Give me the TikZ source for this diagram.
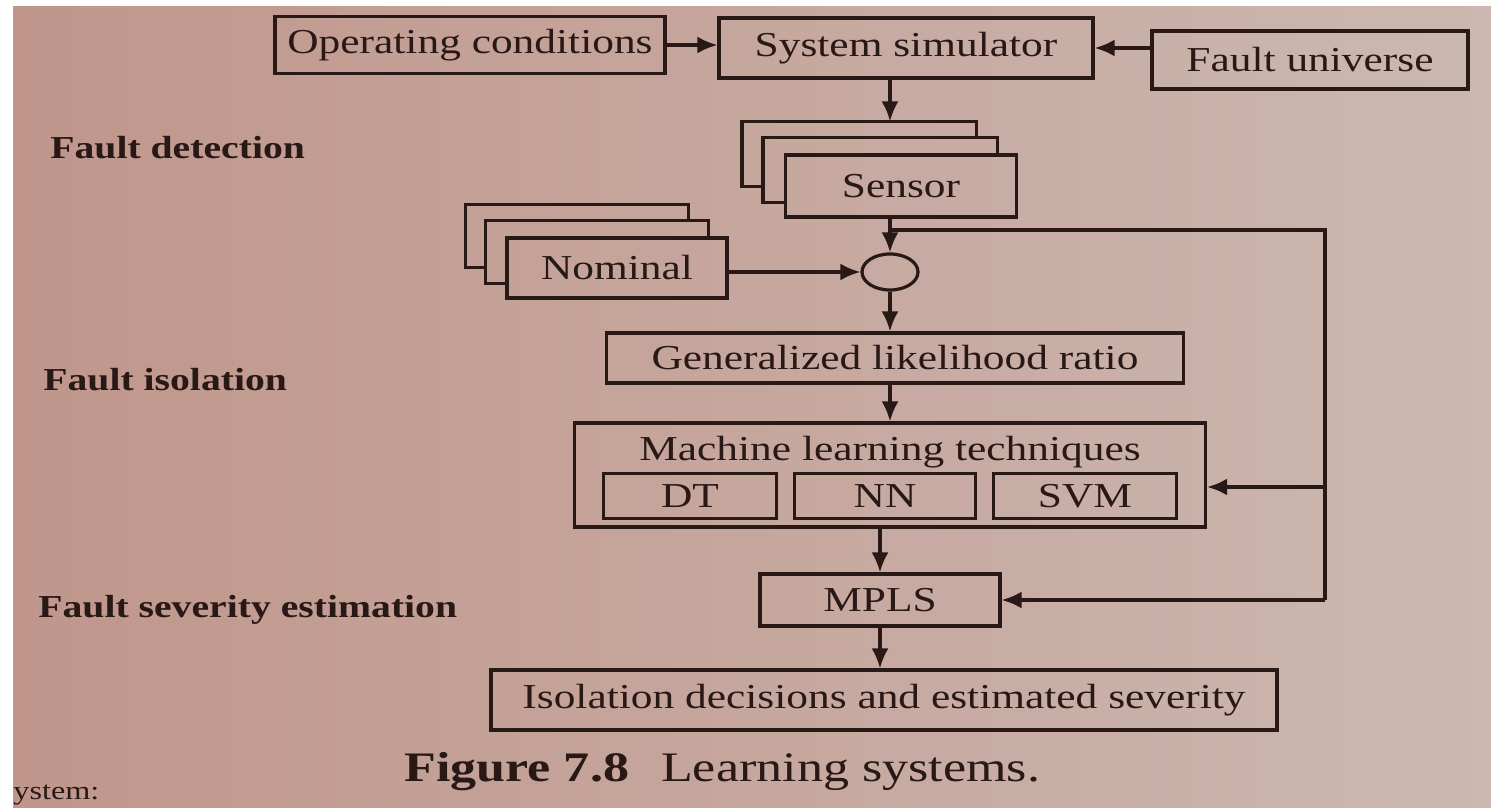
\documentclass[tikz,border=0pt]{standalone}
\usepackage{fontspec}
\setmainfont{Liberation Serif}[FakeStretch=1.24]
\usetikzlibrary{arrows.meta,calc,shapes.geometric}

\definecolor{paperL}{RGB}{192,150,139}
\definecolor{paperR}{RGB}{204,184,176}
\definecolor{ink}{RGB}{40,24,22}

% the two frames peeking out behind a stacked box (node, x offset, y offset)
\newcommand\layerbacks[3]{%
  \draw[frame] ($(#1.south west)+(0,-#3)$) -- ++(-#2,0)
     |- ($(#1.north east)+(-#2,-#3)$) -- ($(#1.north east)+(-#2,0)$);
  \draw[frame] ($(#1.south west)+(-#2,-2*#3)$) -- ++(-#2,0)
     |- ($(#1.north east)+(-2*#2,-2*#3)$) -- ($(#1.north east)+(-2*#2,-#3)$);
}

\begin{document}
\begin{tikzpicture}[x=0.5pt,y=-0.5pt,
  frame/.style={draw=ink,line width=1.6pt},
  box/.style={frame,inner sep=0pt,text=ink,font=\fontsize{17.5}{21}\selectfont},
  lbl/.style={inner sep=0pt,text=ink,font=\fontsize{17.5}{21}\selectfont},
  arr/.style={draw=ink,line width=1.6pt,-{Latex[length=10pt,width=8.5pt]}},
  link/.style={draw=ink,line width=1.6pt},
  stage/.style={anchor=west,inner sep=0pt,text=ink,font=\fontsize{16}{19}\selectfont\bfseries}]

\useasboundingbox (0,0) rectangle (1491,807);
\fill[white] (0,0) rectangle (1491,807);
\shade[left color=paperL,right color=paperR] (13,7) rectangle (1491,807);

% stage labels
\node[stage] (det) at (50,148) {Fault detection};
\node[stage] (iso-lbl) at (43,380) {Fault isolation};
\node[stage] (sev) at (38,610) {Fault severity estimation};

% top row
\node[box,minimum width=195pt,minimum height=28.5pt] (op) at (470,45) {Operating conditions};
\node[box,minimum width=187pt,minimum height=30pt] (sim) at (906,48) {System simulator};
\node[box,minimum width=158pt,minimum height=29pt] (fu) at (1310,60) {Fault universe};

% stacked sensor and nominal blocks
\node[box,minimum width=115.5pt,minimum height=31pt] (sensor) at (901,186) {Sensor};
\layerbacks{sensor}{21}{16}
\coordinate (sensortop) at ($(sensor.north)+(0,-32)$);

\node[box,minimum width=110pt,minimum height=30pt] (nominal) at (617,268) {Nominal};
\layerbacks{nominal}{20}{16}

% comparison junction
\node[draw=ink,line width=1.6pt,ellipse,inner sep=0pt,minimum width=28pt,minimum height=18pt] (sum) at (890,272) {};

% processing chain
\node[box,minimum width=288.5pt,minimum height=25pt] (glr) at (895,358) {Generalized likelihood ratio};
\node[box,minimum width=315.5pt,minimum height=52pt] (ml) at (890,475) {};
\node[lbl] (mltitle) at (890,452) {Machine learning techniques};
\node[box,minimum width=86.5pt,minimum height=22.5pt] (dt) at (690,496) {DT};
\node[box,minimum width=90.5pt,minimum height=22.5pt] (nn) at (885,496) {NN};
\node[box,minimum width=91.5pt,minimum height=22.5pt] (svm) at (1085,496) {SVM};
\node[box,minimum width=120pt,minimum height=26pt] (mpls) at (880,600) {MPLS};
\node[box,minimum width=393pt,minimum height=30pt] (iso) at (884,700) {Isolation decisions and estimated severity};

% connectors
\draw[arr] (op.east) -- (op.east -| sim.west);
\draw[arr] (fu.west |- sim.east) -- (sim.east);
\draw[arr] (sum |- sim.south) -- (sum |- sensortop);
\draw[arr] (sum |- sensor.south) -- (sum.north);
\draw[arr] (nominal.east |- sum) -- (sum.west);
\draw[arr] (sum.south) -- (sum |- glr.north);
\draw[arr] (sum |- glr.south) -- (sum |- ml.north);
\draw[arr] (mpls |- ml.south) -- (mpls.north);
\draw[arr] (mpls.south) -- (mpls |- iso.north);

% feedback from the sensor line
\coordinate (br) at (890,230);
\coordinate (rt) at (1325,230);
\coordinate (rm) at (1325,487);
\draw[link] (br) -- (rt) -- (rt |- mpls.east);
\draw[arr] (rt |- mpls.east) -- (mpls.east);
\draw[arr] (rm) -- (ml.east |- rm);

% caption
\node[anchor=west,inner sep=0pt,text=ink,font=\fontsize{21}{25}\selectfont] (cap) at (404,772)
  {\textbf{Figure 7.8}\hspace{16pt}Learning systems.};

% running text at the foot of the page
\node[anchor=north west,inner sep=0pt,text=ink,font=\fontsize{13}{15}\selectfont] (runon) at (13,784) {ystem:};
\end{tikzpicture}
\end{document}
